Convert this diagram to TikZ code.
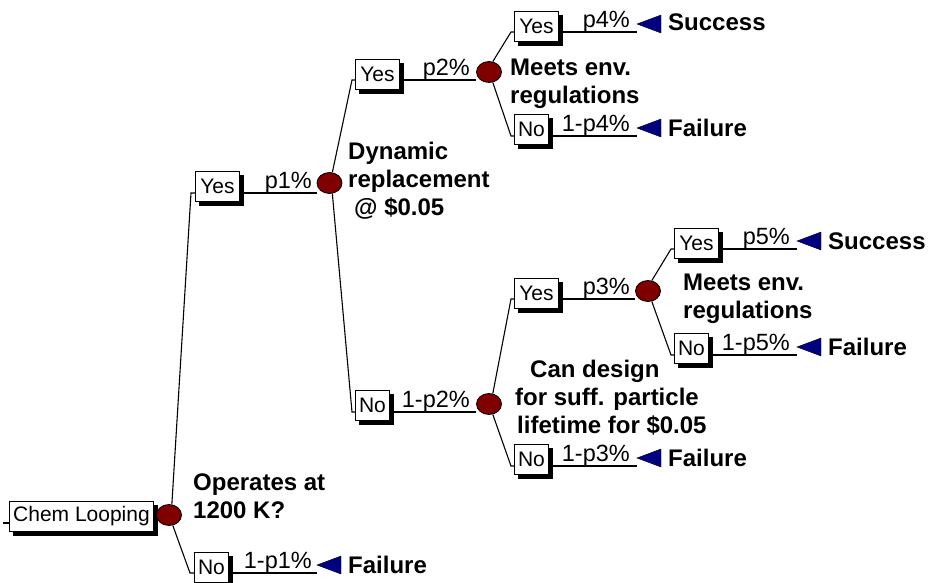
\documentclass[tikz,border=0pt]{standalone}
\usepackage{fontspec}
\setmainfont{Liberation Sans}
\usetikzlibrary{shapes.geometric,calc}
\pgfdeclarelayer{shadowlayer}
\pgfsetlayers{shadowlayer,main}
\definecolor{chancered}{RGB}{128,0,0}
\definecolor{endblue}{RGB}{0,0,128}
\tikzset{
  box/.style={draw, line width=1pt, fill=white, minimum height=30pt, inner xsep=3pt, inner ysep=0pt,
    font=\fontsize{21}{25}\selectfont, anchor=south west},
  yesbox/.style={box, minimum width=44pt},
  nobox/.style={box, minimum width=34pt},
  chance/.style={ellipse, draw=black, line width=0.8pt, fill=chancered, minimum width=25pt, minimum height=21pt, inner sep=0pt},
  prob/.style={anchor=base east, inner sep=0pt, font=\fontsize{23.5}{27}\selectfont},
  outc/.style={anchor=west, inner sep=0pt, font=\fontsize{24}{28}\selectfont\bfseries},
  qlbl/.style={inner sep=0pt, font=\fontsize{24}{28}\selectfont\bfseries},
  branch/.style={line width=1.1pt},
  endtri/.style={fill=endblue, draw=black, line width=0.4pt},
  boxshadow/.style={fill=black}
}
\begin{document}
\begin{tikzpicture}[x=1pt,y=-1pt]
\useasboundingbox (0,0) rectangle (935,582);

% root
\coordinate (stub) at (3,523);
\node[box, minimum width=144pt] (chem) at (9,532) {Chem Looping};
\node[chance] (c0) at (169,515) {};
\draw[branch] (stub) -- (chem.west |- stub);
\draw[branch] (chem.east |- stub) -- (c0.west |- stub);
\node[qlbl, align=left, anchor=west] (q0) at (193,496) {Operates at\\1200 K?};

% root yes
\coordinate (k1) at (191,193);
\node[yesbox] (b1) at (195,202) {Yes};
\node[chance] (c1) at (329.5,183) {};
\draw[branch] (c0.75) -- (k1) -- (b1.west |- k1);
\draw[branch] (b1.east |- k1) -- (c1.west |- k1);
\node[prob] (p1) at (312,188) {p1\%};
\node[qlbl, align=left, anchor=west] (q1) at (348,181) {Dynamic\\replacement\\\hspace{6pt}@ \$0.05};

% root no
\coordinate (k2) at (190,573);
\node[nobox] (b2) at (194,583) {No};
\coordinate (t2) at (317,565);
\draw[branch] (c0.-70) -- (k2) -- (b2.west |- k2);
\draw[branch] (b2.east |- k2) -- (t2 |- k2);
\draw[endtri] (t2) -- ++(24,-9) -- ++(0,18) -- cycle;
\node[prob] (p2) at (312,568) {1-p1\%};
\node[outc] (o2) at (348,565) {Failure};

% c1 yes
\coordinate (k3) at (352,80);
\node[yesbox] (b3) at (355,90) {Yes};
\node[chance] (c2) at (489,72) {};
\draw[branch] (c1.75) -- (k3) -- (b3.west |- k3);
\draw[branch] (b3.east |- k3) -- (c2.west |- k3);
\node[prob] (p3) at (470,75) {p2\%};
\node[qlbl, align=left, anchor=west] (q2) at (510,83.5) {Meets env.\\regulations};

% c1 no
\coordinate (k4) at (352,412);
\node[nobox] (b4) at (355,421) {No};
\node[chance] (c3) at (489,404) {};
\draw[branch] (c1.-75) -- (k4) -- (b4.west |- k4);
\draw[branch] (b4.east |- k4) -- (c3.west |- k4);
\node[prob] (p4) at (470,407) {1-p2\%};
\node[qlbl, align=left, anchor=west] (q3) at (515,397.5) {\hspace{15pt}Can design\\for suff. particle\\\hspace{2pt}lifetime for \$0.05};

% c2 yes
\coordinate (k5) at (511,32);
\node[yesbox] (b5) at (514,42) {Yes};
\coordinate (t5) at (637,24);
\draw[branch] (c2.70) -- (k5) -- (b5.west |- k5);
\draw[branch] (b5.east |- k5) -- (t5 |- k5);
\draw[endtri] (t5) -- ++(24,-9) -- ++(0,18) -- cycle;
\node[prob] (p5) at (630,27) {p4\%};
\node[outc] (o5) at (668,22) {Success};

% c2 no
\coordinate (k6) at (511,136);
\node[nobox] (b6) at (514,145) {No};
\coordinate (t6) at (637,128);
\draw[branch] (c2.-70) -- (k6) -- (b6.west |- k6);
\draw[branch] (b6.east |- k6) -- (t6 |- k6);
\draw[endtri] (t6) -- ++(24,-9) -- ++(0,18) -- cycle;
\node[prob] (p6) at (630,131) {1-p4\%};
\node[outc] (o6) at (668,128) {Failure};

% c3 yes
\coordinate (k7) at (511,299);
\node[yesbox] (b7) at (514,309) {Yes};
\node[chance] (c4) at (648,291) {};
\draw[branch] (c3.70) -- (k7) -- (b7.west |- k7);
\draw[branch] (b7.east |- k7) -- (c4.west |- k7);
\node[prob] (p7) at (630,294) {p3\%};
\node[qlbl, align=left, anchor=west] (q4) at (683,299) {Meets env.\\regulations};

% c3 no
\coordinate (k8) at (511,466);
\node[nobox] (b8) at (514,475) {No};
\coordinate (t8) at (637,458);
\draw[branch] (c3.-70) -- (k8) -- (b8.west |- k8);
\draw[branch] (b8.east |- k8) -- (t8 |- k8);
\draw[endtri] (t8) -- ++(24,-9) -- ++(0,18) -- cycle;
\node[prob] (p8) at (630,461) {1-p3\%};
\node[outc] (o8) at (668,458) {Failure};

% c4 yes
\coordinate (k9) at (671,249);
\node[yesbox] (b9) at (674,259) {Yes};
\coordinate (t9) at (797,241);
\draw[branch] (c4.70) -- (k9) -- (b9.west |- k9);
\draw[branch] (b9.east |- k9) -- (t9 |- k9);
\draw[endtri] (t9) -- ++(24,-9) -- ++(0,18) -- cycle;
\node[prob] (p9) at (790,244) {p5\%};
\node[outc] (o9) at (828,241) {Success};

% c4 no
\coordinate (k10) at (671,355);
\node[nobox] (b10) at (674,364) {No};
\coordinate (t10) at (797,347);
\draw[branch] (c4.-70) -- (k10) -- (b10.west |- k10);
\draw[branch] (b10.east |- k10) -- (t10 |- k10);
\draw[endtri] (t10) -- ++(24,-9) -- ++(0,18) -- cycle;
\node[prob] (p10) at (790,350) {1-p5\%};
\node[outc] (o10) at (828,347) {Failure};

% box shadows
\begin{pgfonlayer}{shadowlayer}
\foreach \b in {chem,b1,b2,b3,b4,b5,b6,b7,b8,b9,b10}
  \fill[boxshadow] ([shift={(3.5,3.5)}]\b.south west) rectangle ([shift={(3.5,3.5)}]\b.north east);
\end{pgfonlayer}
\end{tikzpicture}
\end{document}
